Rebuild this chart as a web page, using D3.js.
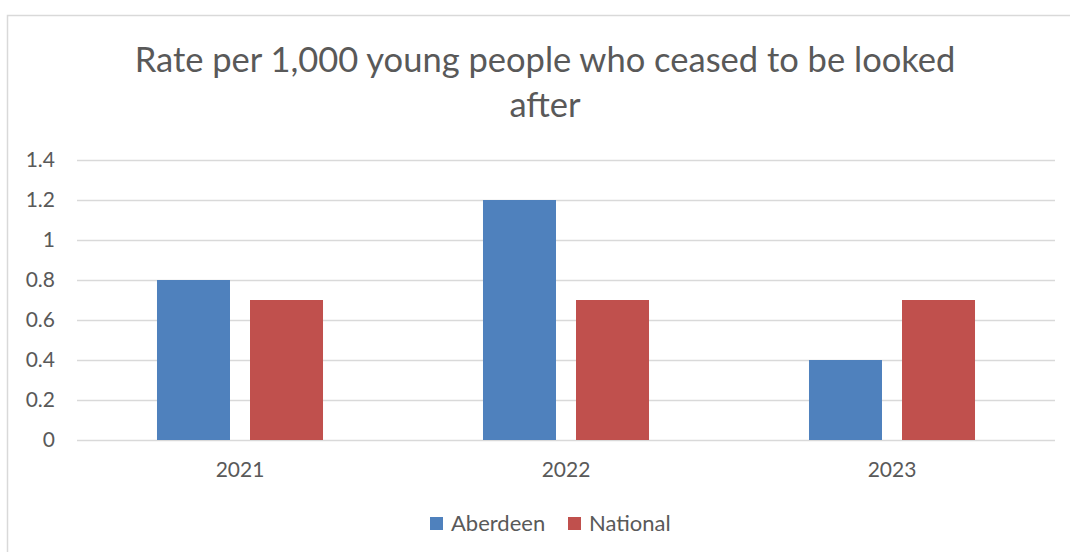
<!DOCTYPE html>
<html>
<head>
<meta charset="utf-8">
<script src="https://cdn.jsdelivr.net/npm/d3@7"></script>
<style>
  body { margin: 0; background: #fff; }
  svg text { font-family: Lato, "Open Sans", sans-serif; fill: #595959; }
</style>
</head>
<body>
<div id="chart"></div>
<script>
// data
const years = ["2021", "2022", "2023"];
const seriesNames = ["Aberdeen", "National"];
const aberdeen = [0.8, 1.2, 0.4];
const national = [0.7, 0.7, 0.7];
const yTicks = [0, 0.2, 0.4, 0.6, 0.8, 1, 1.2, 1.4];
const titleLines = ["Rate per 1,000 young people who ceased to be looked", "after"];

const colors = { Aberdeen: "#4F81BD", National: "#C0504D" };

const width = 1070, height = 552;
const margin = { top: 160, right: 15, bottom: 112, left: 77 };

const svg = d3.select("#chart").append("svg")
    .attr("width", width)
    .attr("height", height);

// chart area frame (only top and left edges visible in the crop)
svg.append("rect")
    .attr("x", 7.5).attr("y", 15.5)
    .attr("width", width + 20).attr("height", height + 20)
    .attr("fill", "#fff")
    .attr("stroke", "#D9D9D9")
    .attr("stroke-width", 1.5);

// title
svg.append("text")
    .attr("text-anchor", "middle")
    .style("font-size", "34.5px")
    .selectAll("tspan")
    .data(titleLines)
    .enter().append("tspan")
    .attr("x", 545)
    .attr("y", (d, i) => 72 + i * 45)
    .text(d => d);

const x0 = d3.scaleBand()
    .domain(years)
    .range([margin.left, width - margin.right]);

const x1 = d3.scaleBand()
    .domain(seriesNames)
    .range([0, x0.bandwidth()])
    .paddingInner(0.215)
    .paddingOuter(0.86);

const y = d3.scaleLinear()
    .domain([0, 1.4])
    .range([height - margin.bottom, margin.top]);

// gridlines + y labels
const yAxis = svg.append("g")
    .attr("transform", `translate(${margin.left},0)`)
    .call(d3.axisLeft(y)
        .tickValues(yTicks)
        .tickSize(-(width - margin.right - margin.left))
        .tickPadding(22)
        .tickFormat(d3.format("")));
yAxis.select(".domain").remove();
yAxis.selectAll("line").attr("stroke", "#D9D9D9").attr("stroke-width", 1.5);
yAxis.selectAll("text").style("font-size", "21px").attr("fill", "#595959");

// bars
const rows = years.map((yr, i) => ({ year: yr, Aberdeen: aberdeen[i], National: national[i] }));

svg.append("g")
    .selectAll("g")
    .data(rows)
    .enter().append("g")
    .attr("transform", d => `translate(${x0(d.year)},0)`)
    .selectAll("rect")
    .data(d => seriesNames.map(s => ({ key: s, value: d[s] })))
    .enter().append("rect")
    .attr("x", d => x1(d.key))
    .attr("y", d => y(d.value))
    .attr("width", x1.bandwidth())
    .attr("height", d => y(0) - y(d.value))
    .attr("fill", d => colors[d.key]);

// x labels
const xAxis = svg.append("g")
    .attr("transform", `translate(0,${height - margin.bottom})`)
    .call(d3.axisBottom(x0).tickSize(0).tickPadding(22));
xAxis.select(".domain").remove();
xAxis.selectAll("text").style("font-size", "21px").attr("fill", "#595959");

// legend
const legend = svg.append("g").attr("transform", "translate(430,517)");
const legendX = [0, 138];
seriesNames.forEach((s, i) => {
    legend.append("rect")
        .attr("x", legendX[i]).attr("y", 0)
        .attr("width", 13).attr("height", 13)
        .attr("fill", colors[s]);
    legend.append("text")
        .attr("x", legendX[i] + 21).attr("y", 14)
        .style("font-size", "22px")
        .text(s);
});
</script>
</body>
</html>
